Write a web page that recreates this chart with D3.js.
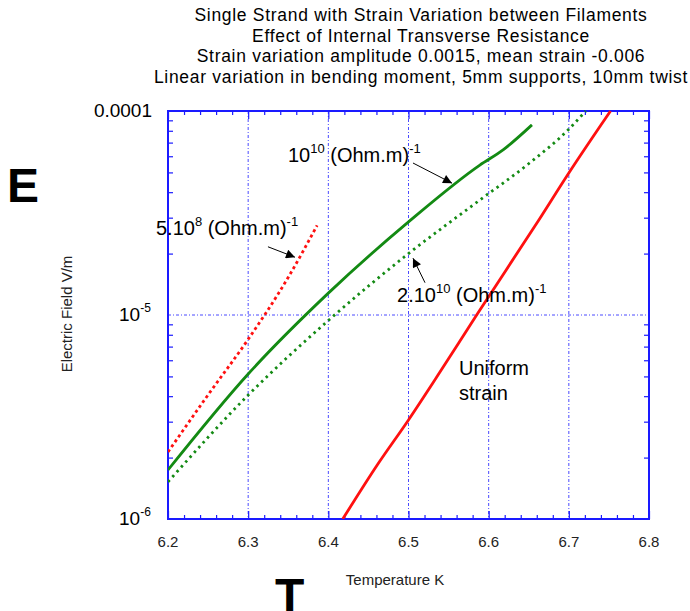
<!DOCTYPE html>
<html>
<head>
<meta charset="utf-8">
<script src="https://cdn.jsdelivr.net/npm/d3@7/dist/d3.min.js"></script>
<style>
  body { margin: 0; background: #fff; }
  svg { display: block; font-family: Arial, "Liberation Sans", sans-serif; }
</style>
</head>
<body>
<div id="chart"></div>
<script>
// ---- data (T in K, E in V/m) ----
var red5e8T   = [6.200, 6.250, 6.300, 6.350, 6.386];
var red5e8E   = [2.13e-6, 4.06e-6, 7.6e-6, 1.53e-5, 2.75e-5];

var green1e10T = [6.200, 6.300, 6.400, 6.500, 6.589, 6.618, 6.654];
var green1e10E = [1.74e-6, 5.14e-6, 1.28e-5, 2.86e-5, 5.43e-5, 6.45e-5, 8.55e-5];

var green2e10T = [6.200, 6.300, 6.400, 6.500, 6.589, 6.651, 6.699, 6.721];
var green2e10E = [1.52e-6, 4.05e-6, 9.4e-6, 2.0e-5, 3.66e-5, 5.56e-5, 8.07e-5, 1.0e-4];

var uniformT = [6.418, 6.461, 6.500, 6.535, 6.585, 6.662, 6.700, 6.752];
var uniformE = [1.0e-6, 1.84e-6, 3.06e-6, 4.95e-6, 1.0e-5, 2.9e-5, 4.97e-5, 1.0e-4];

var xTicks = [6.2, 6.3, 6.4, 6.5, 6.6, 6.7, 6.8];
var xGrid  = [6.3, 6.4, 6.5, 6.6, 6.7];
var yGrid  = [1e-5];

var titleLines = [
  "Single Strand with Strain Variation between Filaments",
  "Effect of Internal Transverse Resistance",
  "Strain variation amplitude 0.0015, mean strain -0.006",
  "Linear variation in bending moment, 5mm supports, 10mm twist"
];

var wid = 690, heig = 611;
var pLeft = 168, pRight = 649, pTop = 111, pBottom = 519;

var svg = d3.select("#chart").append("svg")
    .attr("width", wid)
    .attr("height", heig);

var x = d3.scaleLinear().domain([6.2, 6.8]).range([pLeft, pRight]);
var y = d3.scaleLog().domain([1e-6, 1e-4]).range([pBottom, pTop]);

var blue = "#1a1aff";

// title
svg.append("g").selectAll("text")
    .data(titleLines).enter().append("text")
    .attr("x", 421)
    .attr("y", function(d, i) { return 21 + i * 20.6; })
    .attr("text-anchor", "middle")
    .style("font-size", "17.5px")
    .style("letter-spacing", "0.7px")
    .text(function(d) { return d; });

// grid
svg.append("g").selectAll("line")
    .data(xGrid).enter().append("line")
    .attr("x1", function(d) { return x(d); })
    .attr("x2", function(d) { return x(d); })
    .attr("y1", pTop).attr("y2", pBottom)
    .attr("stroke", "#4a4aff")
    .attr("stroke-width", 1)
    .attr("stroke-dasharray", "3,2,1,2");

svg.append("g").selectAll("line")
    .data(yGrid).enter().append("line")
    .attr("x1", pLeft).attr("x2", pRight)
    .attr("y1", function(d) { return y(d); })
    .attr("y2", function(d) { return y(d); })
    .attr("stroke", "#4a4aff")
    .attr("stroke-width", 1)
    .attr("stroke-dasharray", "3,2,1,2");

// axes with inner ticks (major + minor), on all four sides
var xMinor = d3.range(6.2, 6.8001, 0.02).filter(function(v) {
  return Math.abs(v * 10 - Math.round(v * 10)) > 1e-6;
});
var yMinor = [];
[1e-6, 1e-5].forEach(function(b) { for (var k = 2; k <= 9; k++) yMinor.push(b * k); });

svg.append("g").attr("transform", "translate(0," + pBottom + ")")
    .call(d3.axisBottom(x).tickValues(xTicks).tickSize(-8).tickFormat(""));
svg.append("g").attr("transform", "translate(0," + pBottom + ")")
    .call(d3.axisBottom(x).tickValues(xMinor).tickSize(-4).tickFormat(""));
svg.append("g").attr("transform", "translate(0," + pTop + ")")
    .call(d3.axisTop(x).tickValues(xTicks).tickSize(-8).tickFormat(""));
svg.append("g").attr("transform", "translate(0," + pTop + ")")
    .call(d3.axisTop(x).tickValues(xMinor).tickSize(-4).tickFormat(""));
svg.append("g").attr("transform", "translate(" + pLeft + ",0)")
    .call(d3.axisLeft(y).tickValues(yMinor).tickSize(-5).tickFormat(""));
svg.append("g").attr("transform", "translate(" + pRight + ",0)")
    .call(d3.axisRight(y).tickValues(yMinor).tickSize(-5).tickFormat(""));

svg.selectAll(".domain").remove();
svg.selectAll(".tick line").attr("stroke", blue).attr("stroke-width", 1.2);

svg.append("rect")
    .attr("x", pLeft).attr("y", pTop)
    .attr("width", pRight - pLeft).attr("height", pBottom - pTop)
    .attr("fill", "none")
    .attr("stroke", blue)
    .attr("stroke-width", 2);

// x tick labels
svg.append("g").selectAll("text")
    .data(xTicks).enter().append("text")
    .attr("x", function(d) { return x(d); })
    .attr("y", 547)
    .attr("text-anchor", "middle")
    .style("font-size", "15px")
    .style("fill", "#222")
    .text(function(d) { return d3.format(".1f")(d); });

// y tick labels
svg.append("text")
    .attr("x", 152).attr("y", y(1e-4) + 6)
    .attr("text-anchor", "end")
    .style("font-size", "19px")
    .text("0.0001");

[[1e-5, "-5"], [1e-6, "-6"]].forEach(function(p) {
  var t = svg.append("text")
      .attr("x", 119).attr("y", y(p[0]) + 6)
      .style("font-size", "19px");
  t.append("tspan").text("10");
  t.append("tspan").attr("dy", -9).style("font-size", "12px").text(p[1]);
});

// axis titles
svg.append("text")
    .attr("x", 395).attr("y", 585)
    .attr("text-anchor", "middle")
    .style("font-size", "15px")
    .style("fill", "#222")
    .text("Temperature K");

svg.append("text")
    .attr("transform", "translate(72,314) rotate(-90)")
    .attr("text-anchor", "middle")
    .style("font-size", "15px")
    .style("fill", "#222")
    .text("Electric Field V/m");

svg.append("text")
    .attr("x", 7).attr("y", 202)
    .style("font-size", "48px").style("font-weight", "bold")
    .text("E");
svg.append("text")
    .attr("x", 275).attr("y", 612)
    .style("font-size", "48px").style("font-weight", "bold")
    .text("T");

// curves
svg.append("clipPath").attr("id", "plotClip")
  .append("rect")
    .attr("x", pLeft).attr("y", pTop - 2)
    .attr("width", pRight - pLeft).attr("height", pBottom - pTop + 2);

var line = d3.line()
    .x(function(d) { return x(d[0]); })
    .y(function(d) { return y(d[1]); })
    .curve(d3.curveMonotoneX);

var curves = [
  { t: red5e8T,    e: red5e8E,    color: "#ff1010", width: 2.8, dash: "3,3" },
  { t: green1e10T, e: green1e10E, color: "#138a13", width: 2.8, dash: null },
  { t: green2e10T, e: green2e10E, color: "#138a13", width: 2.8, dash: "2.5,4" },
  { t: uniformT,   e: uniformE,   color: "#ff1010", width: 2.8, dash: null }
];

var gCurves = svg.append("g").attr("clip-path", "url(#plotClip)");
curves.forEach(function(c) {
  gCurves.append("path")
      .datum(d3.zip(c.t, c.e))
      .attr("d", line)
      .attr("fill", "none")
      .attr("stroke", c.color)
      .attr("stroke-width", c.width)
      .attr("stroke-dasharray", c.dash);
});

// annotations: arrows from tail (T, E) to tip (T, E)
var arrowTail = [[6.5056, 5.56e-5], [6.3247, 2.16e-5], [6.5206, 1.44e-5]];
var arrowTip  = [[6.5543, 4.43e-5], [6.3584, 1.92e-5], [6.5056, 1.90e-5]];

svg.append("defs").append("marker")
    .attr("id", "head")
    .attr("viewBox", "0 0 10 10")
    .attr("refX", 10).attr("refY", 5)
    .attr("markerWidth", 15).attr("markerHeight", 9)
    .attr("markerUnits", "userSpaceOnUse")
    .attr("orient", "auto")
  .append("path")
    .attr("d", "M0,0 L10,5 L0,10 z")
    .attr("fill", "#000");

svg.append("g").selectAll("line")
    .data(d3.zip(arrowTail, arrowTip)).enter().append("line")
    .attr("x1", function(d) { return x(d[0][0]); })
    .attr("y1", function(d) { return y(d[0][1]); })
    .attr("x2", function(d) { return x(d[1][0]); })
    .attr("y2", function(d) { return y(d[1][1]); })
    .attr("stroke", "#000")
    .attr("stroke-width", 1)
    .attr("marker-end", "url(#head)");

// labels: [T, E, main, sup]
var labels = [
  [6.3497, 5.62e-5, "10", "10"],
  [6.185,  2.47e-5, "5.10", "8"],
  [6.4857, 1.16e-5, "2.10", "10"]
];
labels.forEach(function(l) {
  var t = svg.append("text")
      .attr("x", x(l[0])).attr("y", y(l[1]))
      .style("font-size", "20px");
  t.append("tspan").text(l[2]);
  t.append("tspan").attr("dy", -9).style("font-size", "13px").text(l[3]);
  t.append("tspan").attr("dy", 9).text(" (Ohm.m)");
  t.append("tspan").attr("dy", -9).style("font-size", "13px").text("-1");
});

var uniformLabel = [[6.563, 5.08e-6, "Uniform"], [6.563, 3.83e-6, "strain"]];
svg.append("g").selectAll("text")
    .data(uniformLabel).enter().append("text")
    .attr("x", function(d) { return x(d[0]); })
    .attr("y", function(d) { return y(d[1]); })
    .style("font-size", "20px")
    .text(function(d) { return d[2]; });
</script>
</body>
</html>
